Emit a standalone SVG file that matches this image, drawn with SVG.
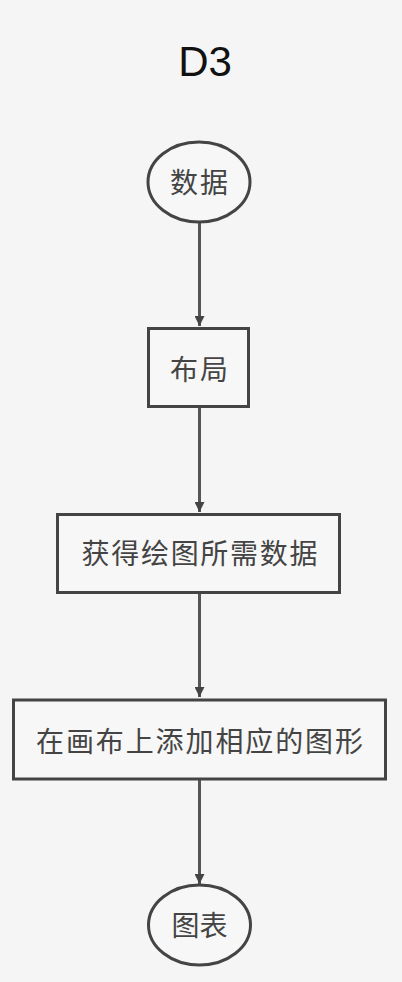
<svg xmlns="http://www.w3.org/2000/svg" width="402" height="982" viewBox="0 0 402 982">
<defs>
<marker id="arr" viewBox="0 0 10 10" refX="10" refY="5" markerWidth="10" markerHeight="10" markerUnits="userSpaceOnUse" orient="auto">
<path d="M0,0 L10,5 L0,10 z" fill="#444"/>
</marker>
<style>
.bg{fill:#f5f5f5}
.shape{fill:#f7f7f7;stroke:#444;stroke-width:3}
.lbl{font-family:"Noto Sans CJK SC","Noto Sans",sans-serif;font-size:28px;fill:#444;text-anchor:middle;dominant-baseline:central}
.title{font-family:"Liberation Sans","DejaVu Sans",sans-serif;font-size:42px;fill:#111;text-anchor:middle}
.conn{stroke:#555;stroke-width:3;fill:none}
</style>
</defs>
<rect class="bg" x="0" y="0" width="402" height="982"/>
<text class="title" x="205" y="76">D3</text>
<g id="connectors">
<line class="conn" x1="199.5" y1="222" x2="199.5" y2="326" marker-end="url(#arr)"/>
<line class="conn" x1="199.5" y1="408" x2="199.5" y2="512" marker-end="url(#arr)"/>
<line class="conn" x1="199.5" y1="593" x2="199.5" y2="697" marker-end="url(#arr)"/>
<line class="conn" x1="199.5" y1="780" x2="199.5" y2="884" marker-end="url(#arr)"/>
</g>
<g id="node-data">
<ellipse class="shape" cx="199" cy="182" rx="51" ry="40"/>
<text class="lbl" x="199" y="181" textLength="58">数据</text>
</g>
<g id="node-layout">
<rect class="shape" x="148.5" y="328.5" width="100" height="78"/>
<text class="lbl" x="199" y="368" textLength="58">布局</text>
</g>
<g id="node-getdata">
<rect class="shape" x="57.5" y="514.5" width="282" height="78"/>
<text class="lbl" x="199.5" y="552" textLength="236">获得绘图所需数据</text>
</g>
<g id="node-draw">
<rect class="shape" x="13.5" y="700" width="372" height="79"/>
<text class="lbl" x="199.5" y="740" textLength="327">在画布上添加相应的图形</text>
</g>
<g id="node-chart">
<ellipse class="shape" cx="199.5" cy="925" rx="51" ry="40"/>
<text class="lbl" x="199.5" y="924" textLength="56">图表</text>
</g>
</svg>
